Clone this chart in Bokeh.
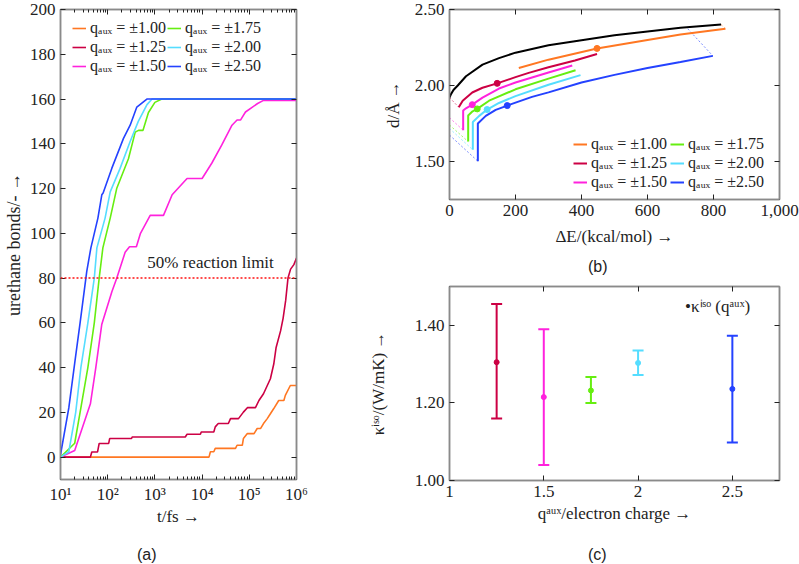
import numpy as np
from bokeh.plotting import figure
from bokeh.models import (Range1d, LinearAxis, LogAxis, Legend, LegendItem, Label, Div,
                          FixedTicker, CustomJSTickFormatter, PrintfTickFormatter, Span)
from bokeh.layouts import row, column
from bokeh.embed import file_html
from bokeh.resources import INLINE

SERIF = "Liberation Serif"
SANS = "Liberation Sans"
FRAME = "#8a8a8a"
INK = "#222222"

# ---------------- common ----------------
q_text = ["±1.00", "±1.25", "±1.50", "±1.75", "±2.00", "±2.50"]
colors = ["#ff7722", "#cc0044", "#ff22dd", "#66ee11", "#55ddff", "#2442ff"]

# ---------------- panel (a): urethane bonds vs time ----------------
t_100 = [10, 14000, 15000, 17700, 19000, 51000, 55000, 71000, 75000, 91000, 126000,
         147000, 174000, 200000, 240000, 280000, 330000, 420000, 540000, 580000, 740000, 1000000]
y_100 = [0, 0, 2.4, 2.4, 3.9, 3.9, 5.3, 5.3, 8.3, 10.5, 10.5,
         12.8, 12.8, 15, 17.2, 19.4, 21.7, 25.3, 25.3, 27.6, 32, 32]

t_125 = [10, 43, 46, 61, 66, 105, 110, 320, 330, 4400, 4800, 9200, 9600, 17700, 19000,
         22000, 36000, 40000, 59000, 75000, 91000, 135000, 160000, 200000, 280000, 330000,
         370000, 460000, 520000, 590000, 660000, 750000, 880000, 1000000]
y_125 = [0, 0, 2.3, 2.3, 6.1, 6.1, 8.3, 8.3, 9.0, 9.0, 10.2, 10.2, 11.2, 11.2, 13.5,
         15, 15, 17.2, 17.2, 20.1, 22.1, 22.1, 25.3, 28.3, 35, 41.6,
         49, 56.4, 62, 70, 80, 84, 86, 89]

t_150 = [10, 20, 43, 56, 75, 123, 156, 234, 290, 405, 495, 795, 1520, 2320, 4800, 10000,
         16000, 26000, 43000, 55000, 65000, 83000, 150000, 200000, 1000000]
y_150 = [0, 3, 23.8, 40, 59.4, 74, 80, 91.5, 94, 94, 100, 108, 108, 117.2, 124.5, 124.5,
         131.3, 139.4, 148.3, 150.6, 150.6, 154.2, 158, 159.4, 159.4]

t_175 = [10, 20, 26, 38, 52, 66, 79, 113, 155, 275, 383, 450, 560, 730, 1000, 1400, 1000000]
y_175 = [0, 6.2, 20, 40, 60, 80, 93.5, 106.8, 120, 133.3, 145.2, 146, 146, 154, 158.5, 160, 160]

t_200 = [10, 15, 21, 27, 38, 52, 59, 88, 113, 183, 299, 445, 680, 870, 1000000]
y_200 = [0, 2.4, 20, 40, 60, 80, 93.5, 106.8, 118.5, 129, 141, 150, 157.5, 160, 160]

t_250 = [10, 15, 20, 26, 36, 44, 62, 75, 80, 122, 216, 299, 414, 676, 1000000]
y_250 = [1, 22, 42, 60, 83, 93.5, 106.8, 117.2, 118, 129, 142.4, 148.3, 156.4, 160, 160]

reaction_limit = 80
a_x_ticks = [10, 100, 1000, 10000, 100000, 1000000]
a_x_labels = ["10¹", "10²", "10³", "10⁴", "10⁵", "10⁶"]
a_y_ticks = [0, 20, 40, 60, 80, 100, 120, 140, 160, 180, 200]

# ---------------- panel (b): d vs dE ----------------
E_blk = [0, 5, 12, 25, 50, 100, 150, 200, 300, 400, 500, 600, 700, 823]
d_blk = [1.921, 1.945, 1.97, 2.0, 2.061, 2.137, 2.18, 2.216, 2.265, 2.298, 2.33, 2.356, 2.38, 2.401]

E_100 = [210, 300, 447, 600, 700, 836]
d_100 = [2.115, 2.17, 2.244, 2.30, 2.335, 2.373]
E_125 = [28, 40, 69, 100, 144.5, 200, 240, 300, 380, 447]
d_125 = [1.857, 1.90, 1.954, 1.985, 2.014, 2.055, 2.083, 2.12, 2.165, 2.207]
E_150 = [41.4, 41.4, 50, 69, 100, 150, 200, 300, 372]
d_150 = [1.706, 1.835, 1.85, 1.874, 1.92, 1.98, 2.02, 2.085, 2.132]
E_175 = [56.6, 56.6, 70, 84, 120, 200, 300, 382]
d_175 = [1.631, 1.803, 1.83, 1.846, 1.90, 1.975, 2.045, 2.10]
E_200 = [70.7, 70.7, 90, 114, 150, 200, 300, 397]
d_200 = [1.577, 1.76, 1.80, 1.842, 1.885, 1.93, 2.005, 2.068]
E_250 = [85.9, 85.9, 110, 140, 175, 250, 300, 400, 500, 600, 700, 798]
d_250 = [1.502, 1.75, 1.80, 1.84, 1.868, 1.925, 1.955, 2.02, 2.07, 2.115, 2.155, 2.195]

mark_E = [447, 144.5, 69, 84, 114, 175]
mark_d = [2.244, 2.014, 1.874, 1.846, 1.842, 1.868]

conn_E = [[823, 836], [0, 28], [0, 41.4], [0, 56.6], [0, 70.7], [0, 85.9], [722, 798]]
conn_d = [[2.401, 2.373], [1.921, 1.857], [1.788, 1.706], [1.74, 1.631], [1.717, 1.577],
          [1.674, 1.502], [2.373, 2.195]]
conn_col = [0, 1, 2, 3, 4, 5, 5]

b_x_ticks = [0, 200, 400, 600, 800, 1000]
b_y_ticks = [1.5, 2.0, 2.5]

# ---------------- panel (c): kappa vs q ----------------
q_c = [1.25, 1.5, 1.75, 2.0, 2.5]
k_mean = [1.305, 1.215, 1.232, 1.303, 1.236]
k_lo = [1.16, 1.04, 1.20, 1.272, 1.098]
k_hi = [1.455, 1.39, 1.267, 1.335, 1.373]
c_x_ticks = [1, 1.5, 2, 2.5]
c_y_ticks = [1.0, 1.2, 1.4]


def style(p, ax_label_standoff_x, ax_label_standoff_y):
    p.xgrid.visible = False
    p.ygrid.visible = False
    p.outline_line_color = FRAME
    p.outline_line_width = 1.5
    p.background_fill_color = "white"
    p.border_fill_color = "white"
    for ax in list(p.xaxis) + list(p.yaxis):
        ax.axis_line_color = FRAME
        ax.axis_line_width = 1.5
        ax.major_tick_in = 5
        ax.major_tick_out = 0
        ax.major_tick_line_color = INK
        ax.minor_tick_in = 0
        ax.minor_tick_out = 0
        ax.major_label_text_font = SERIF
        ax.major_label_text_font_size = "17px"
        ax.major_label_text_color = INK
        ax.major_label_standoff = 5
        ax.axis_label_text_font = SERIF
        ax.axis_label_text_font_size = "17px"
        ax.axis_label_text_font_style = "normal"
        ax.axis_label_text_color = INK
    for ax in p.xaxis:
        ax.axis_label_standoff = ax_label_standoff_x
    for ax in p.yaxis:
        ax.axis_label_standoff = ax_label_standoff_y


def mirror(p, xticker, yticker, log_x=False):
    blank = CustomJSTickFormatter(code="return ''")
    top = (LogAxis if log_x else LinearAxis)(ticker=xticker, formatter=blank)
    right = LinearAxis(ticker=yticker, formatter=blank)
    for ax in (top, right):
        ax.axis_line_color = FRAME
        ax.axis_line_width = 1.5
        ax.major_tick_in = 5
        ax.major_tick_out = 0
        ax.major_tick_line_color = INK
        ax.minor_tick_in = 3 if (log_x and ax is top) else 0
        ax.minor_tick_out = 0
        ax.minor_tick_line_color = INK
        ax.major_label_standoff = 0
        ax.major_label_text_font_size = "1px"
    p.add_layout(top, "above")
    p.add_layout(right, "right")


def make_legend(items, loc, size="16px"):
    lg = Legend(items=items, location=loc)
    lg.background_fill_alpha = 0
    lg.border_line_alpha = 0
    lg.label_text_font = SERIF
    lg.label_text_font_size = size
    lg.label_text_color = INK
    lg.glyph_width = 14
    lg.glyph_height = 14
    lg.label_standoff = 4
    lg.spacing = 1
    lg.padding = 0
    lg.margin = 0
    lg.label_height = 17
    return lg


def caption(text, width, height, left, top):
    html = ('<div style="padding-left:%dpx; padding-top:%dpx; font-family:\'Liberation Sans\', sans-serif; '
            'font-size:16px; line-height:18px; color:#222222;">%s</div>' % (left, top, text))
    return Div(text=html, width=width, height=height, margin=0)


W_A = 352
W_R = 447

# ====================== figure (a) ======================
pa = figure(width=W_A, height=532, x_axis_type="log",
            x_range=Range1d(10, 1e6), y_range=Range1d(-10, 200),
            output_backend="svg", toolbar_location=None,
            min_border_left=60, min_border_right=56, min_border_top=9, min_border_bottom=53)
pa.xaxis.axis_label = "t/fs →"
pa.yaxis.axis_label = "urethane bonds/- →"
minor_a = [m * 10 ** k for k in range(1, 6) for m in range(2, 10)]
pa.xaxis.ticker = FixedTicker(ticks=a_x_ticks, minor_ticks=minor_a)
pa.xaxis.major_label_overrides = {t: s for t, s in zip(a_x_ticks, a_x_labels)}
pa.yaxis.ticker = FixedTicker(ticks=a_y_ticks)
style(pa, 0, 3)
pa.yaxis.axis_label_text_font_size = "18px"
pa.xaxis.minor_tick_in = 3
pa.xaxis.minor_tick_line_color = INK
mirror(pa, FixedTicker(ticks=a_x_ticks, minor_ticks=minor_a), FixedTicker(ticks=a_y_ticks), log_x=True)

pa.add_layout(Span(location=reaction_limit, dimension="width", line_color="#ff1010",
                   line_dash="2 2", line_width=1.5))
pa.add_layout(Label(x=690, y=reaction_limit + 2.5, text="50% reaction limit",
                    text_font=SERIF, text_font_size="17px", text_color=INK))

series_a = [(t_100, y_100), (t_125, y_125), (t_150, y_150),
            (t_175, y_175), (t_200, y_200), (t_250, y_250)]
rend_a = []
for (tx, yy), c in zip(series_a, colors):
    rend_a.append(pa.line(tx, yy, line_color=c, line_width=1.6))
items_a = [LegendItem(label="qₐᵤₓ = " + s, renderers=[r]) for s, r in zip(q_text, rend_a)]
pa.add_layout(make_legend(items_a[:3], (12, 404)))
pa.add_layout(make_legend(items_a[3:], (107, 404)))

# ====================== figure (b) ======================
pb = figure(width=W_R, height=255, x_range=Range1d(0, 1000), y_range=Range1d(1.25, 2.5),
            output_backend="svg", toolbar_location=None,
            min_border_left=97, min_border_right=20, min_border_top=9, min_border_bottom=56)
pb.xaxis.axis_label = "ΔE/(kcal/mol) →"
pb.yaxis.axis_label = "d/Å →"
pb.xaxis.ticker = FixedTicker(ticks=b_x_ticks)
pb.xaxis.major_label_overrides = {1000: "1,000"}
pb.yaxis.ticker = FixedTicker(ticks=b_y_ticks)
pb.yaxis.formatter = PrintfTickFormatter(format="%.2f")
style(pb, 8, 9)
mirror(pb, FixedTicker(ticks=b_x_ticks), FixedTicker(ticks=b_y_ticks))

for ex, dy, ci in zip(conn_E, conn_d, conn_col):
    pb.line(ex, dy, line_color=colors[ci], line_width=1, line_dash="2 2", line_alpha=0.6)
pb.line(E_blk, d_blk, line_color="black", line_width=2)
series_b = [(E_100, d_100), (E_125, d_125), (E_150, d_150),
            (E_175, d_175), (E_200, d_200), (E_250, d_250)]
rend_b = []
for (ex, dy), c in zip(series_b, colors):
    rend_b.append(pb.line(ex, dy, line_color=c, line_width=2))
pb.scatter(mark_E, mark_d, size=6, color=colors)
items_b = [LegendItem(label="qₐᵤₓ = " + s, renderers=[r]) for s, r in zip(q_text, rend_b)]
pb.add_layout(make_legend(items_b[:3], (124, 8)))
pb.add_layout(make_legend(items_b[3:], (221, 8)))

# ====================== figure (c) ======================
pc = figure(width=W_R, height=252, x_range=Range1d(1, 2.75), y_range=Range1d(1.0, 1.5),
            output_backend="svg", toolbar_location=None,
            min_border_left=97, min_border_right=20, min_border_top=6, min_border_bottom=52)
pc.xaxis.axis_label = "qᵃᵘˣ/electron charge →"
pc.yaxis.axis_label = "κⁱˢᵒ/(W/mK) →"
pc.xaxis.ticker = FixedTicker(ticks=c_x_ticks)
pc.xaxis.major_label_overrides = {1: "1", 1.5: "1.5", 2: "2", 2.5: "2.5"}
pc.yaxis.ticker = FixedTicker(ticks=c_y_ticks)
pc.yaxis.formatter = PrintfTickFormatter(format="%.2f")
style(pc, 4, 24)
mirror(pc, FixedTicker(ticks=c_x_ticks), FixedTicker(ticks=c_y_ticks))

colors_c = colors[1:]
pc.segment(x0=q_c, y0=k_lo, x1=q_c, y1=k_hi, line_color=colors_c, line_width=2)
pc.scatter(q_c, k_lo, marker="dash", size=11, line_color=colors_c, line_width=2)
pc.scatter(q_c, k_hi, marker="dash", size=11, line_color=colors_c, line_width=2)
pc.scatter(q_c, k_mean, size=5, color=colors_c)
dummy = pc.scatter(x=[], y=[], size=0, color="black")
lg_c = make_legend([LegendItem(label="•κⁱˢᵒ (qᵃᵘˣ)", renderers=[dummy])], (226, 163), "17px")
lg_c.glyph_width = 6
pc.add_layout(lg_c)

cap_a = caption("(a)", W_A, 32, 137, 14)
cap_b = caption("(b)", W_R, 25, 588 - W_A, 3)
cap_c = caption("(c)", W_R, 32, 588 - W_A, 14)

layout = row(column(pa, cap_a), column(pb, cap_b, pc, cap_c))
open("out.html", "w").write(file_html(layout, INLINE))
